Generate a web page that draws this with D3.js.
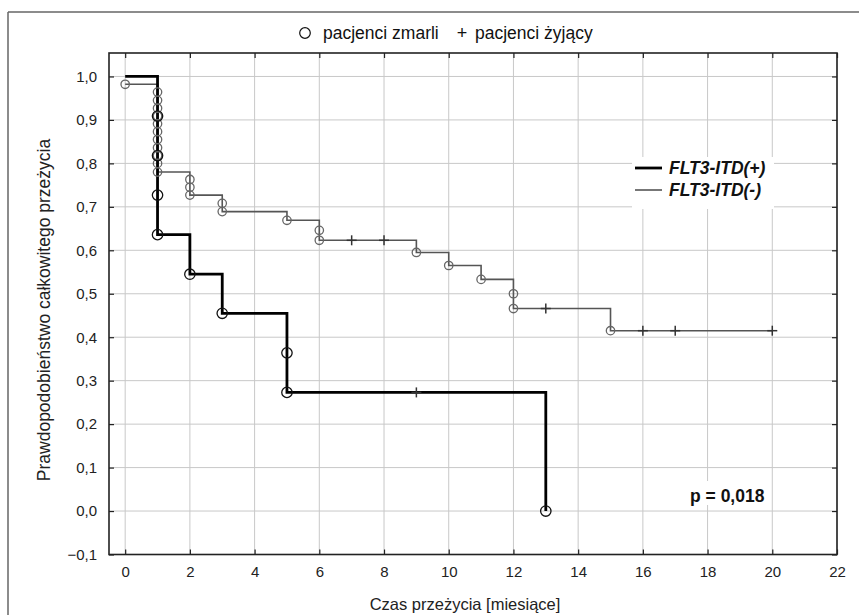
<!DOCTYPE html>
<html>
<head>
<meta charset="utf-8">
<script src="https://cdn.jsdelivr.net/npm/d3@7"></script>
<style>
  body { margin: 0; background: #fff; }
  svg { display: block; font-family: "Liberation Sans", Arial, sans-serif; }
</style>
</head>
<body>
<svg id="chart" width="859" height="615"></svg>
<script>
// Kaplan-Meier steps (time in months, survival probability)
const plusTimes = [0, 1, 2, 3, 5, 13];
const plusSurv = [1.0, 0.636, 0.545, 0.455, 0.273, 0.0];
const plusDeaths = [[1, 0.909], [1, 0.818], [1, 0.727], [1, 0.636], [2, 0.545], [3, 0.455], [5, 0.364], [5, 0.273], [13, 0.0]];
const plusCensored = [[9, 0.273]];

const minusTimes = [0, 1, 2, 3, 5, 6, 9, 10, 11, 12, 15, 20];
const minusSurv = [0.982, 0.780, 0.727, 0.689, 0.669, 0.623, 0.595, 0.565, 0.533, 0.466, 0.415, 0.415];
const minusDeaths = [[0, 0.982],
  [1, 0.964], [1, 0.945], [1, 0.927], [1, 0.909], [1, 0.891], [1, 0.873], [1, 0.855], [1, 0.836], [1, 0.818], [1, 0.800], [1, 0.780],
  [2, 0.763], [2, 0.745], [2, 0.727], [3, 0.708], [3, 0.689], [5, 0.669], [6, 0.646], [6, 0.623],
  [9, 0.595], [10, 0.565], [11, 0.533], [12, 0.500], [12, 0.466], [15, 0.415]];
const minusCensored = [[7, 0.623], [8, 0.623], [13, 0.466], [16, 0.415], [17, 0.415], [20, 0.415]];

const xTicks = d3.range(0, 23, 2);
const yTicks = d3.range(-1, 11).map(d => d / 10);
const groupNames = ["FLT3-ITD(+)", "FLT3-ITD(-)"];

const svg = d3.select("#chart");
const pLeft = 109, pRight = 837, pTop = 53, pBottom = 554.5;

const x = d3.scaleLinear().domain([-0.5, 22]).range([pLeft, pRight]);
const y = d3.scaleLinear().domain([-0.1, 1.054]).range([pBottom, pTop]);
const fmt = d => d3.format(".1f")(d).replace(".", ",");

// outer frame line
svg.append("line").attr("x1", 8).attr("x2", 859).attr("y1", 12).attr("y2", 12)
  .attr("stroke", "#666").attr("stroke-width", 1.5);
svg.append("line").attr("x1", 8).attr("x2", 8).attr("y1", 12).attr("y2", 615)
  .attr("stroke", "#666").attr("stroke-width", 1.5);

// grid
const grid = svg.append("g").attr("stroke", "#c8c8c8").attr("stroke-width", 1);
grid.selectAll(".gx").data(xTicks).enter().append("line")
  .attr("x1", d => x(d)).attr("x2", d => x(d)).attr("y1", pTop).attr("y2", pBottom);
grid.selectAll(".gy").data(yTicks).enter().append("line")
  .attr("x1", pLeft).attr("x2", pRight).attr("y1", d => y(d)).attr("y2", d => y(d));

// white boxes behind legend and p value
svg.append("rect").attr("x", 632).attr("y", 157).attr("width", 142).attr("height", 52).attr("fill", "#fff");
svg.append("rect").attr("x", 686).attr("y", 481).attr("width", 84).attr("height", 24).attr("fill", "#fff");

// axes (ticks inside)
const axisStyle = g => {
  g.select(".domain").remove();
  g.selectAll("line").attr("stroke", "#222").attr("stroke-width", 1.2);
  g.selectAll("text").attr("font-size", 15).attr("fill", "#222");
};
svg.append("g").attr("transform", `translate(0,${pBottom})`)
  .call(d3.axisBottom(x).tickValues(xTicks).tickSizeInner(-5).tickPadding(12))
  .call(axisStyle);
svg.append("g").attr("transform", `translate(0,${pTop})`)
  .call(d3.axisTop(x).tickValues(xTicks).tickSizeInner(-5).tickFormat(""))
  .call(axisStyle);
svg.append("g").attr("transform", `translate(${pLeft},0)`)
  .call(d3.axisLeft(y).tickValues(yTicks).tickSizeInner(-5).tickPadding(12).tickFormat(fmt))
  .call(axisStyle);
svg.append("g").attr("transform", `translate(${pRight},0)`)
  .call(d3.axisRight(y).tickValues(yTicks).tickSizeInner(-5).tickFormat(""))
  .call(axisStyle);

svg.append("rect").attr("x", pLeft).attr("y", pTop).attr("width", pRight - pLeft).attr("height", pBottom - pTop)
  .attr("fill", "none").attr("stroke", "#222").attr("stroke-width", 1.6);

// step curves
const line = d3.line().x(d => x(d[0])).y(d => y(d[1])).curve(d3.curveStepAfter);
const minusPts = minusTimes.map((t, i) => [t, minusSurv[i]]);
const plusPts = plusTimes.map((t, i) => [t, plusSurv[i]]);

svg.append("path").datum(minusPts).attr("d", line)
  .attr("fill", "none").attr("stroke", "#555").attr("stroke-width", 1.6);
svg.append("path").datum(plusPts).attr("d", line)
  .attr("fill", "none").attr("stroke", "#000").attr("stroke-width", 2.8);

// death markers
svg.append("g").selectAll("circle").data(minusDeaths).enter().append("circle")
  .attr("cx", d => x(d[0])).attr("cy", d => y(d[1])).attr("r", 4.2)
  .attr("fill", "none").attr("stroke", "#666").attr("stroke-width", 1.3);
svg.append("g").selectAll("circle").data(plusDeaths).enter().append("circle")
  .attr("cx", d => x(d[0])).attr("cy", d => y(d[1])).attr("r", 5.2)
  .attr("fill", "none").attr("stroke", "#111").attr("stroke-width", 1.3);

// censored markers
const drawCensor = (data, color) => {
  const g = svg.append("g").attr("stroke", color).attr("stroke-width", 1.5);
  data.forEach(d => {
    g.append("line").attr("x1", x(d[0]) - 5).attr("x2", x(d[0]) + 5).attr("y1", y(d[1])).attr("y2", y(d[1]));
    g.append("line").attr("x1", x(d[0])).attr("x2", x(d[0])).attr("y1", y(d[1]) - 5).attr("y2", y(d[1]) + 5);
  });
};
drawCensor(minusCensored, "#333");
drawCensor(plusCensored, "#333");

// group legend
const lg = svg.append("g");
groupNames.forEach((name, i) => {
  const yy = 168 + i * 22;
  lg.append("line").attr("x1", 635).attr("x2", 662).attr("y1", yy).attr("y2", yy)
    .attr("stroke", i === 0 ? "#000" : "#555").attr("stroke-width", i === 0 ? 2.8 : 1.6);
  lg.append("text").attr("x", 669).attr("y", yy + 6).text(name)
    .attr("font-size", 17.5).attr("font-weight", "bold").attr("font-style", "italic").attr("fill", "#111");
});

svg.append("text").attr("x", 690).attr("y", 502).text("p = 0,018")
  .attr("font-size", 17.5).attr("font-weight", "bold").attr("fill", "#111");

// top legend
svg.append("circle").attr("cx", 305).attr("cy", 33).attr("r", 5.3)
  .attr("fill", "none").attr("stroke", "#111").attr("stroke-width", 1.2);
svg.append("text").attr("x", 323).attr("y", 39).text("pacjenci zmarli").attr("font-size", 17.5).attr("fill", "#111");
svg.append("text").attr("x", 462).attr("y", 39).attr("text-anchor", "middle").text("+").attr("font-size", 18).attr("fill", "#111");
svg.append("text").attr("x", 475).attr("y", 39).text("pacjenci żyjący").attr("font-size", 17.5).attr("fill", "#111");

// axis titles
svg.append("text").attr("x", 465).attr("y", 610).attr("text-anchor", "middle")
  .text("Czas przeżycia [miesiące]").attr("font-size", 16.5).attr("fill", "#222");
svg.append("text").attr("transform", "translate(50,310) rotate(-90)").attr("text-anchor", "middle")
  .text("Prawdopodobieństwo całkowitego przeżycia").attr("font-size", 17.5).attr("fill", "#222");
</script>
</body>
</html>
